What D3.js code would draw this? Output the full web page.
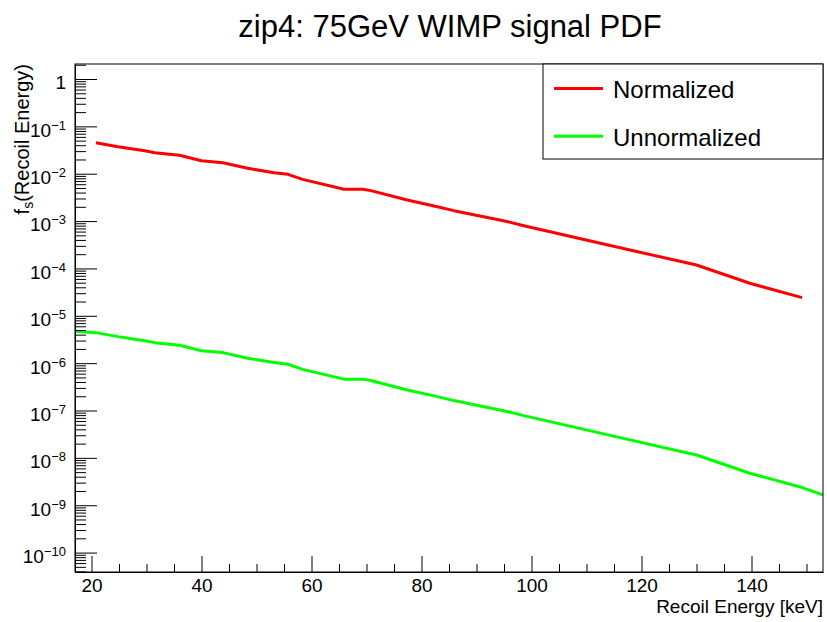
<!DOCTYPE html>
<html>
<head>
<meta charset="utf-8">
<script src="https://cdn.jsdelivr.net/npm/d3@7"></script>
<style>
  body { margin: 0; background: #fff; }
  svg { font-family: "Liberation Sans", Arial, Helvetica, sans-serif; }
</style>
</head>
<body>
<div id="chart"></div>
<script>
// curve readings (recoil energy in keV, PDF value)
var normE = [20.8, 24.8, 29.7, 31.5, 36.0, 40.0, 43.9, 48.4, 53.2, 55.7, 58.4, 65.9, 69.3, 70.8, 77.4, 82.3, 85.9, 94.9, 98.6, 118.5, 130.0, 139.7, 149.2];
var normVals = [4.52e-2, 3.72e-2, 3.06e-2, 2.78e-2, 2.45e-2, 1.88e-2, 1.71e-2, 1.30e-2, 1.05e-2, 9.7e-3, 7.6e-3, 4.7e-3, 4.7e-3, 4.4e-3, 2.79e-3, 2.09e-3, 1.66e-3, 1.02e-3, 8.0e-4, 2.37e-4, 1.18e-4, 4.86e-5, 2.42e-5];

var unnormE = [17.0, 20.8, 24.8, 29.7, 31.5, 36.0, 40.0, 43.9, 48.4, 53.2, 55.7, 58.4, 65.9, 69.3, 70.8, 77.4, 82.3, 85.9, 94.9, 98.6, 118.5, 130.0, 139.7, 149.2, 153.0];
var unnormVals = [4.7e-6, 4.41e-6, 3.63e-6, 2.98e-6, 2.71e-6, 2.39e-6, 1.83e-6, 1.67e-6, 1.27e-6, 1.03e-6, 9.5e-7, 7.4e-7, 4.6e-7, 4.6e-7, 4.3e-7, 2.72e-7, 2.04e-7, 1.62e-7, 9.9e-8, 7.8e-8, 2.31e-8, 1.15e-8, 4.74e-9, 2.36e-9, 1.65e-9];

var seriesNames = ["Normalized", "Unnormalized"];
var seriesColors = ["#ff0000", "#00ff00"];

var xMajor = [20, 40, 60, 80, 100, 120, 140];
var xDomain = [17, 153];
var yDomain = [Math.pow(10, -10.41), Math.pow(10, 0.317)];
var yExponents = [0, -1, -2, -3, -4, -5, -6, -7, -8, -9, -10];

var W = 827, H = 622;
var margin = { top: 64, right: 4, bottom: 50, left: 75 };
var width = W - margin.left - margin.right,
    height = H - margin.top - margin.bottom;

var svg = d3.select("#chart").append("svg")
    .attr("width", W)
    .attr("height", H);

var g = svg.append("g")
    .attr("transform", "translate(" + margin.left + "," + margin.top + ")");

var x = d3.scaleLinear().domain(xDomain).range([0, width]);
var y = d3.scaleLog().domain(yDomain).range([height, 0]);

// minor ticks
var xMinor = d3.range(15, 155, 5).filter(function(v) {
    return v >= xDomain[0] && v <= xDomain[1] && xMajor.indexOf(v) < 0;
});
var yMinor = [];
for (var e = -11; e <= 0; e++) {
    for (var m = 2; m <= 9; m++) {
        var v = m * Math.pow(10, e);
        if (v >= yDomain[0] && v <= yDomain[1]) yMinor.push(v);
    }
}

// clip
g.append("clipPath").attr("id", "clip")
  .append("rect").attr("width", width).attr("height", height);

// curves
var line = d3.line()
    .x(function(d) { return x(d[0]); })
    .y(function(d) { return y(d[1]); });

var series = [
    d3.zip(normE, normVals),
    d3.zip(unnormE, unnormVals)
];

g.append("g").attr("clip-path", "url(#clip)")
  .selectAll(".curve")
  .data(series)
  .enter().append("path")
    .attr("class", "curve")
    .attr("fill", "none")
    .attr("stroke", function(d, i) { return seriesColors[i]; })
    .attr("stroke-width", 3)
    .attr("stroke-linejoin", "round")
    .attr("d", line);

// x axis
var xAxis = g.append("g")
    .attr("transform", "translate(0," + height + ")")
    .call(d3.axisBottom(x).tickValues(xMajor).tickSizeInner(-16).tickSizeOuter(0).tickPadding(7));
g.append("g")
    .attr("transform", "translate(0," + height + ")")
    .call(d3.axisBottom(x).tickValues(xMinor).tickSizeInner(-8).tickSizeOuter(0).tickFormat(""))
    .select(".domain").remove();

xAxis.selectAll("text")
    .attr("font-size", 19)
    .attr("font-family", "Liberation Sans, Arial, sans-serif")
    .attr("fill", "#000");

// y axis
var yAxis = g.append("g")
    .call(d3.axisLeft(y)
        .tickValues(yExponents.map(function(p) { return Math.pow(10, p); }))
        .tickSizeInner(-22).tickSizeOuter(0).tickPadding(9)
        .tickFormat(""));
g.append("g")
    .call(d3.axisLeft(y).tickValues(yMinor).tickSizeInner(-11).tickSizeOuter(0).tickFormat(""))
    .select(".domain").remove();

yAxis.selectAll(".tick text")
    .attr("font-size", 19)
    .attr("font-family", "Liberation Sans, Arial, sans-serif")
    .attr("fill", "#000")
    .attr("dy", "0.52em")
    .each(function(d) {
        var p = Math.round(Math.log10(d));
        var t = d3.select(this);
        if (p === 0) {
            t.text("1");
        } else {
            t.append("tspan").text("10");
            t.append("tspan")
                .attr("dy", -7)
                .attr("font-size", 13)
                .text("\u2212" + (-p));
        }
    });

g.selectAll(".domain").attr("stroke", "#000");
g.selectAll(".tick line").attr("stroke", "#000");

// frame
g.append("rect")
    .attr("width", width)
    .attr("height", height)
    .attr("fill", "none")
    .attr("stroke", "#000")
    .attr("stroke-width", 1);

// titles
svg.append("text")
    .attr("x", 450)
    .attr("y", 37)
    .attr("text-anchor", "middle")
    .attr("font-size", 31)
    .text("zip4: 75GeV WIMP signal PDF");

svg.append("text")
    .attr("x", margin.left + width)
    .attr("y", 613)
    .attr("text-anchor", "end")
    .attr("font-size", 19)
    .text("Recoil Energy [keV]");

var yTitle = svg.append("text")
    .attr("transform", "translate(29," + margin.top + ") rotate(-90)")
    .attr("text-anchor", "end")
    .attr("font-size", 20);
yTitle.append("tspan").text("f");
yTitle.append("tspan").attr("dy", 4).attr("font-size", 14).text("s");
yTitle.append("tspan").attr("dy", -4).text("(Recoil Energy)");

// legend
var legend = svg.append("g")
    .attr("transform", "translate(543,64)");

legend.append("rect")
    .attr("width", 280)
    .attr("height", 95)
    .attr("fill", "#fff")
    .attr("stroke", "#000")
    .attr("stroke-width", 1);

var items = legend.selectAll(".item")
    .data(seriesNames)
    .enter().append("g")
    .attr("class", "item")
    .attr("transform", function(d, i) { return "translate(0," + (24.5 + i * 47.7) + ")"; });

items.append("line")
    .attr("x1", 11).attr("x2", 60)
    .attr("stroke", function(d, i) { return seriesColors[i]; })
    .attr("stroke-width", 3);

items.append("text")
    .attr("x", 70)
    .attr("y", 9.5)
    .attr("font-size", 24)
    .text(function(d) { return d; });
</script>
</body>
</html>
